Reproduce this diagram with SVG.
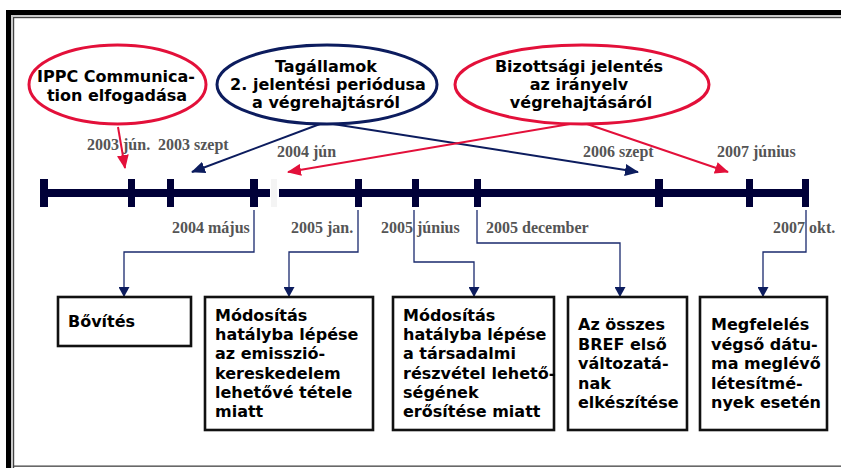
<svg xmlns="http://www.w3.org/2000/svg" width="841" height="468" viewBox="0 0 841 468">
<style>
.frame{fill:#000}
.ell{fill:none;stroke-width:3}
.red{stroke:#e3103a}
.navy{stroke:#0c1c5e}
.et{font-family:"DejaVu Sans",Verdana,sans-serif;font-weight:bold;font-size:16px;fill:#000;text-anchor:middle}
.bt{font-family:"DejaVu Sans",Verdana,sans-serif;font-weight:bold;font-size:16px;fill:#000}
.dt{font-family:"Liberation Serif","Times New Roman",serif;font-weight:bold;font-size:16px;fill:#555}
.box{fill:#fff;stroke:#111;stroke-width:2.6}
.tick{fill:#000038}
.conn{fill:none;stroke:#1a2a6e;stroke-width:1.3}
.arr{fill:none;stroke-width:2}
</style>
<defs>
<marker id="mr" markerUnits="userSpaceOnUse" markerWidth="14" markerHeight="12" refX="13" refY="6" orient="auto"><path d="M0,0 L14,6 L0,12 z" fill="#e3103a"/></marker>
<marker id="mn" markerUnits="userSpaceOnUse" markerWidth="14" markerHeight="12" refX="13" refY="6" orient="auto"><path d="M0,0 L14,6 L0,12 z" fill="#0c1c5e"/></marker>
<marker id="ms" markerUnits="userSpaceOnUse" markerWidth="10" markerHeight="11" refX="9" refY="5.5" orient="auto"><path d="M0,0 L10,5.5 L0,11 z" fill="#0c1c5e"/></marker>
</defs>
<rect width="841" height="468" fill="#fff"/>
<g id="frame">
<rect x="6" y="10" width="835" height="5" class="frame"/>
<rect x="6" y="10" width="5" height="458" class="frame"/>
<rect x="11" y="15" width="830" height="2" fill="#c8c8c8"/>
<rect x="11" y="15" width="2" height="453" fill="#c8c8c8"/>
<rect x="13" y="17" width="828" height="1.2" fill="#444"/>
<rect x="13" y="17" width="1.2" height="451" fill="#444"/>
<rect x="13" y="465.5" width="828" height="1.3" fill="#444"/>
</g>
<g id="timeline">
<rect x="40" y="189" width="230" height="8" class="tick"/>
<rect x="271" y="179" width="6" height="28" fill="#f4f4f4"/>
<rect x="279" y="189" width="527" height="8" class="tick"/>
<rect x="40" y="179" width="8" height="28" class="tick"/>
<rect x="128" y="179" width="7" height="28" class="tick"/>
<rect x="167" y="179" width="7" height="28" class="tick"/>
<rect x="250" y="179" width="8" height="28" class="tick"/>
<rect x="355" y="179" width="7" height="28" class="tick"/>
<rect x="412" y="179" width="7" height="28" class="tick"/>
<rect x="474" y="179" width="7" height="28" class="tick"/>
<rect x="655" y="179" width="8" height="28" class="tick"/>
<rect x="746" y="179" width="7" height="28" class="tick"/>
<rect x="802" y="179" width="7" height="28" class="tick"/>
</g>
<g id="dates">
<text x="87" y="150" class="dt">2003 jún.</text>
<text x="158" y="150" class="dt">2003 szept</text>
<text x="277" y="157" class="dt">2004 jún</text>
<text x="583" y="157" class="dt">2006 szept</text>
<text x="717" y="157" class="dt">2007 június</text>
<text x="172" y="233" class="dt">2004 május</text>
<text x="291" y="233" class="dt">2005 jan.</text>
<text x="381" y="233" class="dt">2005 június</text>
<text x="486" y="233" class="dt">2005 december</text>
<text x="773" y="233" class="dt">2007 okt.</text>
</g>
<g id="connectors">
<path d="M118,127 L125,168" class="arr red" marker-end="url(#mr)"/>
<path d="M320,124 L192,172" class="arr navy" marker-end="url(#mn)"/>
<path d="M333,124 L638,172" class="arr navy" marker-end="url(#mn)"/>
<path d="M570,124 L288,172" class="arr red" stroke-width="1.6" marker-end="url(#mr)"/>
<path d="M587,124 L728,172" class="arr red" marker-end="url(#mr)"/>
<path d="M254,210 V252 H124 V296" class="conn" marker-end="url(#ms)"/>
<path d="M358,210 V252 H289 V296" class="conn" marker-end="url(#ms)"/>
<path d="M414,210 V262 H474 V296" class="conn" marker-end="url(#ms)"/>
<path d="M477,210 V243 H620 V296" class="conn" marker-end="url(#ms)"/>
<path d="M806,210 V252 H763 V296" class="conn" marker-end="url(#ms)"/>
</g>
<g id="ippc">
<ellipse cx="117.5" cy="84.5" rx="88.5" ry="39.5" class="ell red"/>
<text class="et"><tspan x="116" y="82">IPPC Communica-</tspan><tspan x="117" y="101">tion elfogadása</tspan></text>
</g>
<g id="tagallamok">
<ellipse cx="327" cy="84.5" rx="110" ry="39.5" class="ell navy"/>
<text class="et"><tspan x="326" y="72">Tagállamok</tspan><tspan x="328" y="90">2. jelentési periódusa</tspan><tspan x="326" y="108">a végrehajtásról</tspan></text>
</g>
<g id="bizottsagi">
<ellipse cx="582" cy="84.5" rx="127" ry="39.5" class="ell red"/>
<text class="et"><tspan x="579" y="72">Bizottsági jelentés</tspan><tspan x="579" y="90">az irányelv</tspan><tspan x="581" y="108">végrehajtásáról</tspan></text>
</g>
<g id="box1">
<rect x="58" y="297" width="133" height="49" class="box"/>
<text x="68" y="327" class="bt">Bővítés</text>
</g>
<g id="box2">
<rect x="205" y="297" width="168" height="133" class="box"/>
<text class="bt"><tspan x="215" y="321">Módosítás</tspan><tspan x="215" dy="19.2">hatályba lépése</tspan><tspan x="215" dy="19.2">az emisszió-</tspan><tspan x="215" dy="19.2">kereskedelem</tspan><tspan x="215" dy="19.2">lehetővé tétele</tspan><tspan x="215" dy="19.2">miatt</tspan></text>
</g>
<g id="box3">
<rect x="393" y="297" width="161" height="133" class="box"/>
<text class="bt"><tspan x="403" y="321">Módosítás</tspan><tspan x="403" dy="19.2">hatályba lépése</tspan><tspan x="403" dy="19.2">a társadalmi</tspan><tspan x="403" dy="19.2">részvétel lehető-</tspan><tspan x="403" dy="19.2">ségének</tspan><tspan x="403" dy="19.2">erősítése miatt</tspan></text>
</g>
<g id="box4">
<rect x="568" y="297" width="119" height="133" class="box"/>
<text class="bt"><tspan x="578" y="330">Az összes</tspan><tspan x="578" dy="19.5">BREF első</tspan><tspan x="578" dy="19.5">változatá-</tspan><tspan x="578" dy="19.5">nak</tspan><tspan x="578" dy="19.5">elkészítése</tspan></text>
</g>
<g id="box5">
<rect x="700" y="297" width="127" height="133" class="box"/>
<text class="bt"><tspan x="711" y="330">Megfelelés</tspan><tspan x="711" dy="19.5">végső dátu-</tspan><tspan x="711" dy="19.5">ma meglévő</tspan><tspan x="711" dy="19.5">létesítmé-</tspan><tspan x="711" dy="19.5">nyek esetén</tspan></text>
</g>
</svg>
